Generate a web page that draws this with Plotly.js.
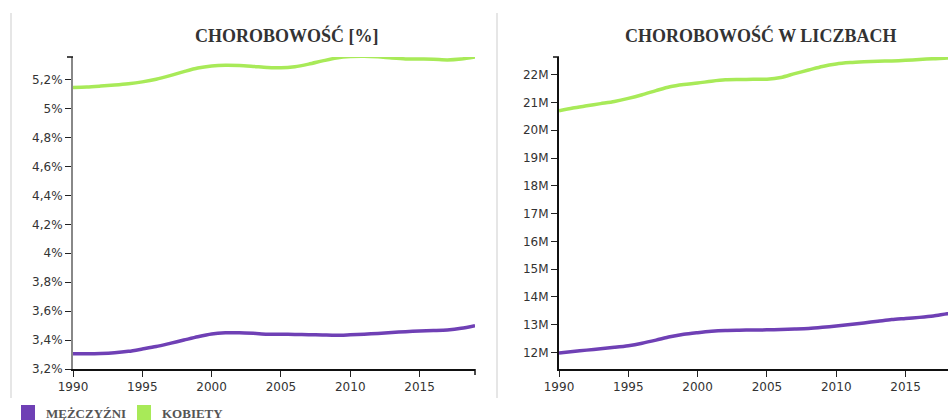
<!DOCTYPE html>
<html>
<head>
<meta charset="utf-8">
<script src="https://cdn.plot.ly/plotly-3.0.1.min.js"></script>
<style>
  html, body { margin: 0; padding: 0; overflow: hidden; background: #fff; }
  #chart { width: 1000px; height: 420px; }
</style>
</head>
<body>
<div id="chart"></div>
<script>
// Years covered by both panels
const years = [1990,1991,1992,1993,1994,1995,1996,1997,1998,1999,
               2000,2001,2002,2003,2004,2005,2006,2007,2008,2009,
               2010,2011,2012,2013,2014,2015,2016,2017,2018,2019];

// Prevalence in percent
const menPct = [3.305,3.305,3.307,3.312,3.322,3.338,3.355,3.377,3.400,3.423,
                3.442,3.450,3.451,3.447,3.441,3.440,3.439,3.437,3.435,3.433,
                3.436,3.440,3.446,3.452,3.458,3.463,3.466,3.470,3.481,3.500];
const womenPct = [5.147,5.150,5.156,5.163,5.172,5.185,5.203,5.228,5.256,5.281,
                  5.295,5.300,5.298,5.292,5.285,5.282,5.290,5.308,5.330,5.350,
                  5.360,5.362,5.358,5.350,5.344,5.343,5.342,5.337,5.343,5.357];

// Prevalence in absolute numbers
const menCount = [11975000,12030000,12080000,12130000,12180000,12240000,12330000,12440000,12560000,12650000,
                  12710000,12760000,12790000,12800000,12805000,12810000,12825000,12840000,12860000,12900000,
                  12950000,13000000,13060000,13120000,13180000,13220000,13260000,13310000,13390000,13450000];
const womenCount = [20700000,20800000,20880000,20960000,21040000,21150000,21280000,21430000,21570000,21650000,
                    21700000,21770000,21820000,21830000,21835000,21840000,21900000,22040000,22170000,22300000,
                    22390000,22440000,22470000,22490000,22500000,22520000,22550000,22580000,22600000,22640000];

const seriesNames = ['MĘŻCZYŹNI', 'KOBIETY'];
const seriesColors = ['#6f40b5', '#a8ea58'];
const panelTitles = ['CHOROBOWOŚĆ [%]', 'CHOROBOWOŚĆ W LICZBACH'];

const xTicks = [1990, 1995, 2000, 2005, 2010, 2015];
const pctTickVals = [3.2,3.4,3.6,3.8,4.0,4.2,4.4,4.6,4.8,5.0,5.2];
const pctTickText = ['3,2%','3,4%','3,6%','3,8%','4%','4,2%','4,4%','4,6%','4,8%','5%','5,2%'];
const cntTickVals = [12e6,13e6,14e6,15e6,16e6,17e6,18e6,19e6,20e6,21e6,22e6];
const cntTickText = ['12M','13M','14M','15M','16M','17M','18M','19M','20M','21M','22M'];

// Canvas is wider than the window, the right panel runs off the edge
const W = 1000, H = 420;
const px = v => v / W;
const py = v => 1 - v / H;

const lineStyle = c => ({ color: c, width: 3.5, shape: 'spline', smoothing: 0.8 });

const traces = [
  { x: years, y: menPct, xaxis: 'x', yaxis: 'y', mode: 'lines', line: lineStyle(seriesColors[0]), name: seriesNames[0] },
  { x: years, y: womenPct, xaxis: 'x', yaxis: 'y', mode: 'lines', line: lineStyle(seriesColors[1]), name: seriesNames[1] },
  { x: years, y: menCount, xaxis: 'x2', yaxis: 'y2', mode: 'lines', line: lineStyle(seriesColors[0]), name: seriesNames[0] },
  { x: years, y: womenCount, xaxis: 'x2', yaxis: 'y2', mode: 'lines', line: lineStyle(seriesColors[1]), name: seriesNames[1] }
];

const tickFont = { family: 'DejaVu Sans, Verdana, sans-serif', size: 12, color: '#333' };

const xBase = {
  range: [1990, 2019], tickvals: xTicks, ticks: 'outside', ticklen: 6, tickwidth: 1,
  tickcolor: '#222', showline: true, linecolor: '#111', linewidth: 2,
  showgrid: false, zeroline: false, tickfont: tickFont, fixedrange: true
};
const yBase = {
  ticks: 'outside', ticklen: 6, tickwidth: 1, tickcolor: '#222',
  showline: true, linewidth: 2, showgrid: false, zeroline: false,
  tickfont: tickFont, fixedrange: true
};

const plotTop = 57, plotBottom = 369;
const yDom = [py(plotBottom), py(plotTop)];

const layout = {
  width: W, height: H,
  margin: { l: 0, r: 0, t: 0, b: 0 },
  paper_bgcolor: '#fff', plot_bgcolor: '#fff',
  showlegend: false,
  xaxis: Object.assign({}, xBase, { domain: [px(73), px(475)], anchor: 'y' }),
  yaxis: Object.assign({}, yBase, { domain: yDom, anchor: 'x', range: [3.2, 5.357],
    tickvals: pctTickVals, ticktext: pctTickText, linecolor: '#888' }),
  xaxis2: Object.assign({}, xBase, { domain: [px(559), px(961)], anchor: 'y2' }),
  yaxis2: Object.assign({}, yBase, { domain: yDom, anchor: 'x2', range: [11.4e6, 22.64e6],
    tickvals: cntTickVals, ticktext: cntTickText, linecolor: '#111' }),
  annotations: [],
  shapes: []
};

// Panel titles
[[287, panelTitles[0]], [760, panelTitles[1]]].forEach(([cx, t]) => {
  layout.annotations.push({
    xref: 'paper', yref: 'paper', x: px(cx), y: py(35), xanchor: 'center', yanchor: 'middle',
    text: '<b>' + t + '</b>', showarrow: false,
    font: { family: 'Liberation Serif, Times New Roman, serif', size: 18, color: '#333' }
  });
});

// Panel frames (left edges)
[11, 497].forEach(x0 => {
  layout.shapes.push({ type: 'line', xref: 'paper', yref: 'paper',
    x0: px(x0), x1: px(x0), y0: py(13), y1: py(398),
    line: { color: '#e6e6e6', width: 2 } });
});

// Outer end ticks of the axes
[73, 559].forEach(ax => {
  layout.shapes.push({ type: 'line', xref: 'paper', yref: 'paper',
    x0: px(ax - 6), x1: px(ax), y0: py(plotTop), y1: py(plotTop),
    line: { color: '#111', width: 1.5 } });
});
layout.shapes.push({ type: 'line', xref: 'paper', yref: 'paper',
  x0: px(475), x1: px(475), y0: py(plotBottom), y1: py(plotBottom + 6),
  line: { color: '#111', width: 1.5 } });

// Legend built from the series names and colours
const legendItems = [[21, 44], [137, 160]];
legendItems.forEach(([sx, tx], i) => {
  layout.shapes.push({ type: 'rect', xref: 'paper', yref: 'paper',
    x0: px(sx), x1: px(sx + 14), y0: py(405), y1: py(420),
    fillcolor: seriesColors[i], line: { width: 0 } });
  layout.annotations.push({
    xref: 'paper', yref: 'paper', x: px(tx), y: py(413), xanchor: 'left', yanchor: 'middle',
    text: '<b>' + seriesNames[i] + '</b>', showarrow: false,
    font: { family: 'Liberation Serif, Times New Roman, serif', size: 13, color: '#555' }
  });
});

Plotly.newPlot('chart', traces, layout, { displayModeBar: false, staticPlot: true });
</script>
</body>
</html>
